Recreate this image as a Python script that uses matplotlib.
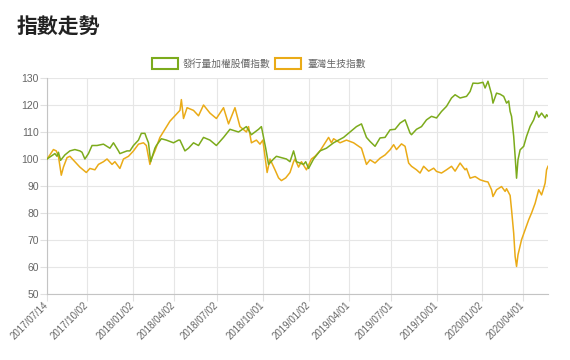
import matplotlib
matplotlib.use("Agg")
import matplotlib.pyplot as plt
from matplotlib.patches import Rectangle

plt.rcParams['font.family'] = ['Noto Sans CJK TC', 'DejaVu Sans']

title = "指數走勢"
series_names = ["發行量加權股價指數", "臺灣生技指數"]
colors = ["#7cab1c", "#eaab17"]

# x values are trading-day indices from 2017/07/14
tick_labels = ['2017/07/14', '2017/10/02', '2018/01/02', '2018/04/02', '2018/07/02',
               '2018/10/01', '2019/01/02', '2019/04/01', '2019/07/01', '2019/10/01',
               '2020/01/02', '2020/04/01']
tick_days = [0, 56, 120, 177, 238, 302, 367, 422, 482, 545, 608, 666]
last_day = 701

taiex_days = [0, 11, 14, 16, 19, 25, 32, 39, 46, 49, 53, 58, 63, 70, 79, 88, 93, 100, 102,
              112, 116, 121, 128, 132, 137, 139, 142, 145, 151, 153, 160, 167, 177, 184,
              186, 193, 198, 205, 212, 219, 228, 237, 247, 256, 268, 279, 286, 296, 300,
              306, 310, 317, 321, 335, 340, 345, 349, 359, 362, 366, 373, 382, 391, 401,
              415, 424, 433, 440, 447, 452, 459, 466, 473, 480, 487, 494, 501, 508, 510,
              517, 524, 531, 538, 545, 552, 559, 566, 571, 578, 587, 592, 596, 603, 610,
              613, 617, 622, 624, 629, 634, 639, 643, 646, 648, 650, 653, 655, 657, 659,
              662, 667, 671, 676, 681, 685, 688, 692, 697, 699, 701]
taiex_vals = [100, 102, 101, 102.5, 99.5, 101.5, 103, 103.5, 103, 102.5, 100, 102, 105, 105,
              105.5, 104, 106, 103, 102, 103, 103, 105, 107, 109.5, 109.5, 108, 106, 99,
              104, 105, 107.5, 107, 106, 107, 107, 103, 104, 106, 105, 108, 107, 105, 108,
              111, 110, 112, 109, 111, 112, 104, 98, 100, 101, 100, 99, 103, 99, 98, 99,
              96.5, 100, 103, 104, 106, 108, 110, 112, 113, 108, 106.5, 104.7, 107.8, 108,
              110.8, 111, 113.3, 114.5, 109.6, 109, 111, 112, 114.5, 115.8, 115.2, 117.6,
              119.5, 122.6, 123.8, 122.6, 123.2, 125, 128.1, 128, 128.4, 126.3, 128.8, 124,
              120.7, 124.4, 124, 123.2, 120.7, 121.5, 117.6, 115.8, 108.4, 101, 92.9, 99.7,
              103.4, 104.7, 108.4, 112.1, 114.5, 117.6, 115.5, 117, 115.2, 116.4, 115.8]

bio_days = [0, 4, 9, 13, 16, 20, 23, 28, 32, 39, 46, 55, 60, 67, 72, 79, 84, 91, 95, 102,
            107, 114, 121, 128, 135, 139, 144, 146, 151, 158, 165, 172, 179, 186, 188, 191,
            196, 205, 212, 219, 228, 237, 247, 254, 263, 270, 279, 282, 286, 293, 298, 302,
            308, 312, 319, 324, 328, 334, 340, 345, 347, 352, 356, 363, 370, 375, 382, 394,
            398, 401, 410, 419, 429, 440, 447, 452, 459, 466, 473, 480, 485, 489, 496, 501,
            506, 510, 517, 522, 527, 534, 541, 545, 552, 559, 566, 571, 578, 585, 587, 592,
            599, 606, 613, 617, 622, 624, 629, 636, 641, 643, 648, 650, 653, 655, 657, 659,
            664, 669, 674, 678, 683, 688, 692, 695, 697, 699, 701]
bio_vals = [100, 101.5, 103.5, 103, 101, 94, 97, 100.5, 101, 99, 97, 95, 96.5, 96, 98, 99,
            100, 98, 99, 96.5, 100, 101, 103, 105.5, 106, 105, 98, 100, 103, 108, 111, 114,
            116, 118, 122, 115, 119, 118, 116, 120, 117, 115, 119, 113, 119, 112, 110, 112,
            106, 107, 105.5, 107, 95, 100, 96, 93, 92, 93, 95, 99, 100, 97, 99, 96, 100, 101,
            103, 108, 106, 107.5, 106, 107, 106, 104, 98, 99.7, 98.5, 100.3, 101.5, 103.4,
            105.3, 103.5, 105.6, 104.7, 98.5, 97.3, 96, 94.8, 97.3, 95.5, 96.6, 95.4, 94.8,
            96, 97.3, 95.5, 98.5, 96, 96.5, 92.9, 93.5, 92.3, 91.7, 91.5, 88.6, 86.1, 88.6,
            89.8, 88, 89, 86.5, 81.2, 72.5, 63.9, 60.2, 64.5, 70.1, 73.8, 77.5, 80, 83.6,
            88.6, 86.7, 89.2, 91.1, 96, 97.3]

y_ticks = [50, 60, 70, 80, 90, 100, 110, 120, 130]

W, H = 570, 360
fig = plt.figure(figsize=(W / 100, H / 100), dpi=100)
ax = fig.add_axes([47 / W, 1 - 294 / H, (548 - 47) / W, (294 - 78) / H])

ax.plot(bio_days, bio_vals, color=colors[1], lw=1.1, zorder=3)
ax.plot(taiex_days, taiex_vals, color=colors[0], lw=1.1, zorder=4)

ax.set_xlim(0, last_day)
ax.set_ylim(50, 130)
ax.set_yticks(y_ticks)
ax.set_xticks(tick_days)
ax.set_xticklabels(tick_labels, rotation=45, ha='right', va='center',
                   rotation_mode='anchor', family='Liberation Sans', fontsize=7, color='#666666')
for lab in ax.get_yticklabels():
    lab.set_family('Liberation Sans')
ax.tick_params(axis='y', labelsize=7.5, labelcolor='#666666', length=5, color='#e0e0e0', pad=1)
ax.tick_params(axis='x', length=5, color='#e0e0e0', pad=2)
ax.grid(True, color='#e6e6e6', lw=0.8)
ax.set_axisbelow(True)
for s in ['top', 'right']:
    ax.spines[s].set_visible(False)
for s in ['left', 'bottom']:
    ax.spines[s].set_color('#c4c4c4')
    ax.spines[s].set_linewidth(0.8)

fig.text(17 / W, 1 - 27 / H, title, fontsize=15, fontweight='bold', color='#222222',
         ha='left', va='center')

# legend
boxes_x = [152, 275]
texts_x = [183, 307]
for bx, tx, c, name in zip(boxes_x, texts_x, colors, series_names):
    fig.patches.append(Rectangle((bx / W, 1 - 69 / H), 26 / W, 11 / H, transform=fig.transFigure,
                                 facecolor='white', edgecolor=c, lw=1.5))
    fig.text(tx / W, 1 - 63.5 / H, name, fontsize=7, color='#666666', ha='left', va='center')

fig.savefig('out.png', dpi=100)
